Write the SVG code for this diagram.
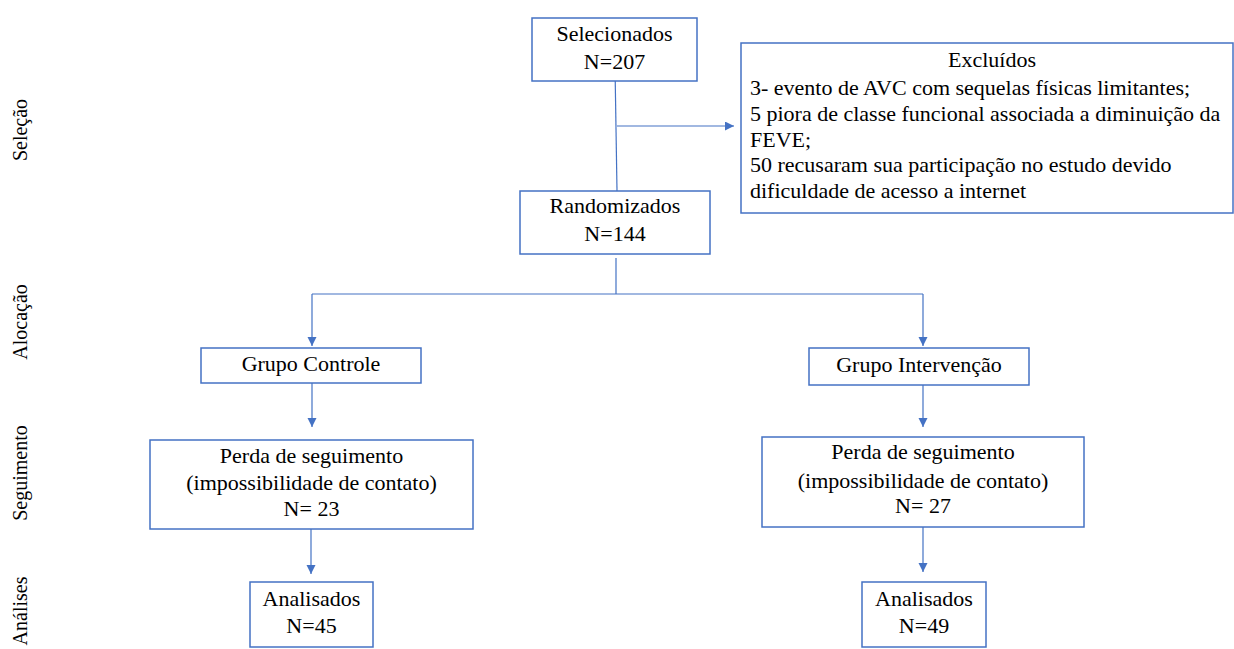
<svg xmlns="http://www.w3.org/2000/svg" width="1234" height="649" viewBox="0 0 1234 649">
<style>
  .box { fill: #ffffff; stroke: #4472C4; stroke-width: 1.5; }
  .t { font-family: "Liberation Serif", "Times New Roman", serif; font-size: 22px; fill: #000000; }
  .c { text-anchor: middle; }
  .side { font-family: "Liberation Serif", "Times New Roman", serif; font-size: 20px; fill: #000000; text-anchor: middle; }
  .ln { stroke: #4472C4; stroke-width: 1.2; fill: none; }
  .arr { stroke: #4472C4; stroke-width: 1.2; fill: none; marker-end: url(#ah); }
</style>
<defs>
  <marker id="ah" markerUnits="userSpaceOnUse" markerWidth="10" markerHeight="10" refX="9" refY="4.5" orient="auto">
    <path d="M0,0 L9,4.5 L0,9 Z" fill="#4472C4"/>
  </marker>
</defs>
<rect width="1234" height="649" fill="#ffffff"/>

<g id="side-labels">
  <text class="side" transform="translate(27,130) rotate(-90)">Seleção</text>
  <text class="side" transform="translate(27,322) rotate(-90)">Alocação</text>
  <text class="side" transform="translate(27,473) rotate(-90)">Seguimento</text>
  <text class="side" transform="translate(27,611) rotate(-90)">Análises</text>
</g>

<g id="connectors">
  <line class="ln" x1="615" y1="66" x2="617" y2="191"/>
  <line class="arr" x1="617" y1="126" x2="734" y2="126"/>
  <line class="ln" x1="616" y1="258" x2="616" y2="294"/>
  <line class="ln" x1="312" y1="294" x2="923" y2="294"/>
  <line class="arr" x1="312" y1="294" x2="312" y2="346"/>
  <line class="arr" x1="923" y1="294" x2="923" y2="346"/>
  <line class="arr" x1="312" y1="383" x2="312" y2="427"/>
  <line class="arr" x1="923" y1="385" x2="923" y2="427"/>
  <line class="arr" x1="311" y1="529" x2="311" y2="574"/>
  <line class="arr" x1="923" y1="527" x2="923" y2="572"/>
</g>

<g id="selecionados">
  <rect class="box" x="532" y="18" width="165" height="63"/>
  <text class="t c" x="614.5" y="41">Selecionados</text>
  <text class="t c" x="614.5" y="69">N=207</text>
</g>

<g id="excluidos">
  <rect class="box" x="741" y="43" width="492" height="170"/>
  <text class="t c" x="992" y="67">Excluídos</text>
  <text class="t" x="750" y="95">3- evento de AVC com sequelas físicas limitantes;</text>
  <text class="t" x="750" y="121">5 piora de classe funcional associada a diminuição da</text>
  <text class="t" x="750" y="147">FEVE;</text>
  <text class="t" x="750" y="172">50 recusaram sua participação no estudo devido</text>
  <text class="t" x="750" y="198">dificuldade de acesso a internet</text>
</g>

<g id="randomizados">
  <rect class="box" x="520" y="191" width="190" height="63"/>
  <text class="t c" x="615" y="213">Randomizados</text>
  <text class="t c" x="615" y="241">N=144</text>
</g>

<g id="grupo-controle">
  <rect class="box" x="201" y="348" width="220" height="35"/>
  <text class="t c" x="311" y="371">Grupo Controle</text>
</g>

<g id="grupo-intervencao">
  <rect class="box" x="809" y="348" width="220" height="37"/>
  <text class="t c" x="919" y="372">Grupo Intervenção</text>
</g>

<g id="perda-controle">
  <rect class="box" x="150" y="440" width="323" height="89"/>
  <text class="t c" x="311.5" y="463">Perda de seguimento</text>
  <text class="t c" x="311.5" y="490">(impossibilidade de contato)</text>
  <text class="t c" x="311.5" y="516">N= 23</text>
</g>

<g id="perda-intervencao">
  <rect class="box" x="762" y="437" width="322" height="90"/>
  <text class="t c" x="923" y="459">Perda de seguimento</text>
  <text class="t c" x="923" y="488">(impossibilidade de contato)</text>
  <text class="t c" x="923" y="513">N= 27</text>
</g>

<g id="analisados-controle">
  <rect class="box" x="250" y="582" width="123" height="65"/>
  <text class="t c" x="311.5" y="606">Analisados</text>
  <text class="t c" x="311.5" y="633">N=45</text>
</g>

<g id="analisados-intervencao">
  <rect class="box" x="862" y="582" width="124" height="65"/>
  <text class="t c" x="924" y="606">Analisados</text>
  <text class="t c" x="924" y="633">N=49</text>
</g>
</svg>
